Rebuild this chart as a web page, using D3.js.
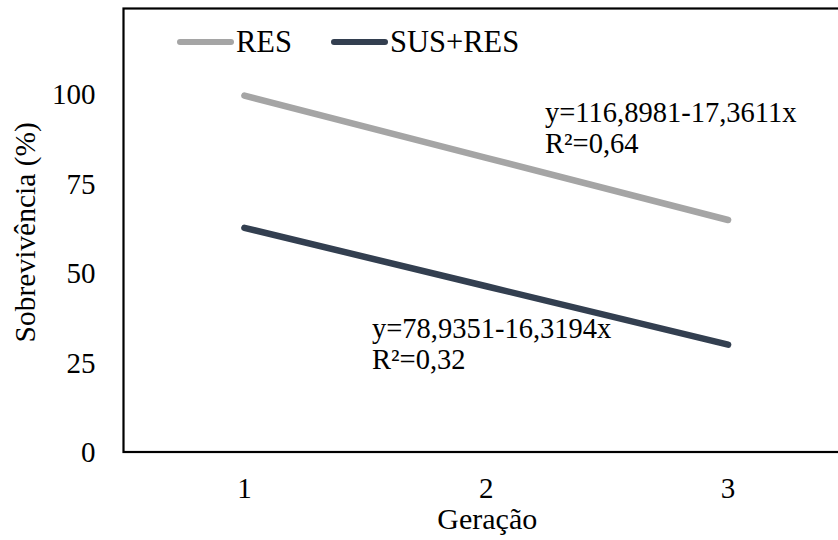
<!DOCTYPE html>
<html><head><meta charset="utf-8">
<script src="https://cdn.jsdelivr.net/npm/d3@7"></script>
<style>body{margin:0;background:#fff}svg{display:block}</style>
</head><body><svg id="c" width="838" height="540" font-family="'Liberation Serif', 'Times New Roman', Times, 'DejaVu Serif', serif"></svg>
<script>
const generations = ["1","2","3"];
const resValues = [99.54, 82.18, 64.81];
const susResValues = [62.62, 46.30, 29.98];
const yTicks = [0,25,50,75,100];
const seriesNames = ["RES","SUS+RES"];
const equations = [["y=116,8981-17,3611x","R²=0,64"],["y=78,9351-16,3194x","R²=0,32"]];
const colors = ["#a5a5a5","#333f50"];

const svg = d3.select("#c");
const pL = 123.5, pR = 849, pT = 8.5, pB = 452;
const x = d3.scalePoint().domain(generations).range([pL, pR]).padding(0.5);
const y = d3.scaleLinear().domain([0,100]).range([pB, pB-358]);

// frame
svg.append("rect").attr("x",pL).attr("y",pT).attr("width",pR-pL).attr("height",pB-pT)
  .attr("fill","none").attr("stroke","#000").attr("stroke-width",2.2);

// y ticks
svg.append("g").selectAll("text").data(yTicks).join("text")
  .attr("x",pL-28).attr("y",d=>y(d)).attr("dy","0.35em").attr("text-anchor","end")
  .attr("font-size",29).text(d=>d);
// x ticks
svg.append("g").selectAll("text").data(generations).join("text")
  .attr("x",d=>x(d)).attr("y",pB+46).attr("text-anchor","middle")
  .attr("font-size",29).text(d=>d);

// titles
svg.append("text").attr("x",x("2")+1).attr("y",529).attr("text-anchor","middle").attr("font-size",30).text("Geração");
svg.append("text").attr("transform",`translate(35,${(pT+pB)/2+2}) rotate(-90)`).attr("text-anchor","middle").attr("font-size",29.5).text("Sobrevivência (%)");

// lines
const line = d3.line().x((d,i)=>x(generations[i])).y(d=>y(d));
[resValues, susResValues].forEach((vals,k)=>{
  svg.append("path").attr("d",line(vals)).attr("fill","none").attr("stroke",colors[k])
    .attr("stroke-width",6.5).attr("stroke-linecap","round");
});

// equations
const eqPos = [[545,122],[372,338]];
equations.forEach((eq,k)=>{
  const t = svg.append("text").attr("x",eqPos[k][0]).attr("y",eqPos[k][1]).attr("font-size",28.5);
  eq.forEach((s,i)=>t.append("tspan").attr("x",eqPos[k][0]).attr("dy",i?31:0).text(s));
});

// legend
const legX = [180, 334];
seriesNames.forEach((n,k)=>{
  svg.append("line").attr("x1",legX[k]).attr("x2",legX[k]+51).attr("y1",42).attr("y2",42)
    .attr("stroke",colors[k]).attr("stroke-width",6).attr("stroke-linecap","round");
  svg.append("text").attr("x",legX[k]+56).attr("y",52).attr("font-size",30.5).text(n);
});
</script></body></html>
